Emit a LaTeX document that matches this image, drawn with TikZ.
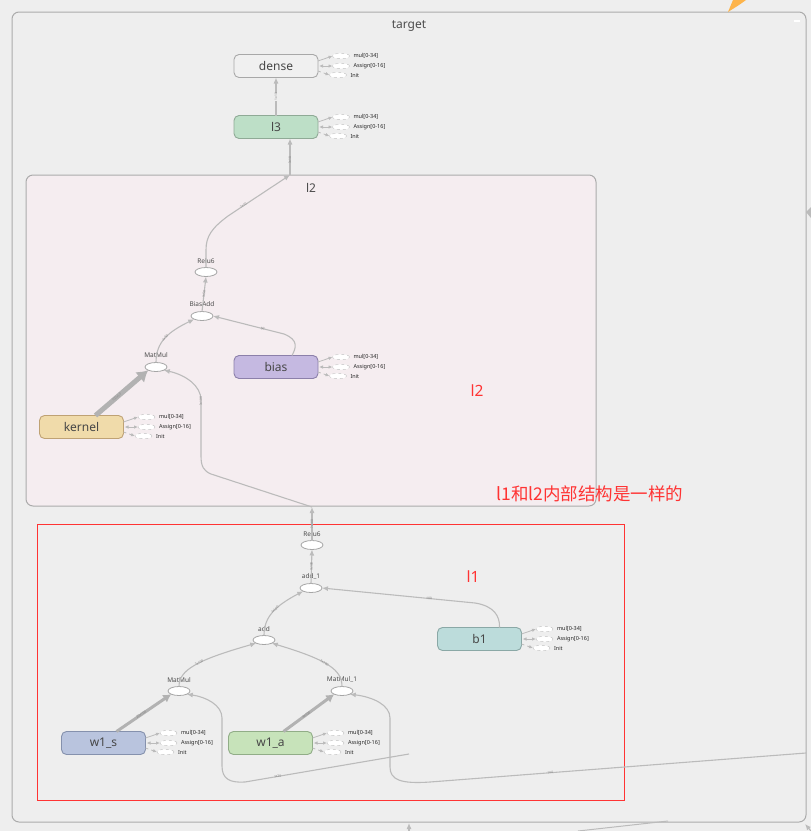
\documentclass[tikz,border=0pt]{standalone}
\usepackage{fontspec}
\setmainfont{Noto Sans}
\newfontfamily\cjk{Noto Sans CJK SC}
\usetikzlibrary{arrows.meta,shapes.geometric}
\definecolor{bgc}{HTML}{EEEEEE}
\definecolor{boxline}{HTML}{ABABAB}
\definecolor{edgec}{HTML}{BBBBBB}
\definecolor{lpink}{HTML}{F5EDF0}
\definecolor{redc}{HTML}{FF3333}
\definecolor{orangec}{HTML}{FDB44B}
\definecolor{densef}{HTML}{F0F0F0}\definecolor{densed}{HTML}{A8A8A8}
\definecolor{greenf}{HTML}{BDDFC7}\definecolor{greend}{HTML}{8FAA96}
\definecolor{purpf}{HTML}{C5B9E1}\definecolor{purpd}{HTML}{8C80AA}
\definecolor{tanf}{HTML}{F0DBAA}\definecolor{tand}{HTML}{BFA274}
\definecolor{tealf}{HTML}{BCDCDB}\definecolor{teald}{HTML}{8AA8A6}
\definecolor{bluef}{HTML}{B9C4DE}\definecolor{blued}{HTML}{8591AD}
\definecolor{lgreenf}{HTML}{C7E3BA}\definecolor{lgreend}{HTML}{91AD87}
\newcommand\varports[1]{%
  \node[port] (#1m) at ([xshift=23pt,yshift=10pt]#1.east) {};
  \node[port] (#1a) at ([xshift=23pt]#1.east) {};
  \node[port] (#1i) at ([xshift=20pt,yshift=-9pt]#1.east) {};
  \node[portlbl] (#1ml) at ([xshift=4pt]#1m.east) {mul[0-34]};
  \node[portlbl] (#1al) at ([xshift=4pt]#1a.east) {Assign[0-16]};
  \node[portlbl] (#1il) at ([xshift=4pt]#1i.east) {Init};
  \draw[portedge] ([yshift=5pt]#1.east) -- (#1m.west);
  \draw[portedge,{Latex[length=4pt,width=3.5pt]}-{Latex[length=4pt,width=3.5pt]}] ([xshift=1pt]#1.east) -- (#1a.west);
  \draw[portedge,dashed] ([yshift=-5pt]#1.east) -- (#1i.west);
}
\begin{document}
\begin{tikzpicture}[x=1pt,y=-1pt,
  every node/.style={inner sep=0pt, outer sep=0pt},
  var/.style={rectangle, rounded corners=5pt, minimum width=84pt, minimum height=23pt, line width=0.9pt, font=\fontsize{12}{12}\selectfont, text=black!72},
  op/.style={ellipse, draw=black!35, fill=white, minimum width=22pt, minimum height=9pt, line width=0.8pt},
  oplbl/.style={font=\fontsize{6.5}{7}\selectfont, text=black!70},
  port/.style={ellipse, draw=black!25, dashed, fill=white, minimum width=17pt, minimum height=5.5pt, line width=0.4pt},
  portlbl/.style={anchor=west, font=\fontsize{5.5}{6}\selectfont, text=black!85},
  portedge/.style={draw=edgec, line width=0.8pt, -{Latex[length=4pt,width=3.5pt]}},
  edge/.style={draw=edgec, line width=1.1pt, -{Latex[length=6pt,width=5pt]}},
  medge/.style={draw=edgec!95!black, line width=3pt, -{Latex[length=8pt,width=9pt]}},
  bigedge/.style={draw=edgec!95!black, line width=5pt, -{Latex[length=11pt,width=14pt]}},
  elbl/.style={font=\fontsize{3.3}{4}\selectfont, text=black!50, sloped},
  ttl/.style={font=\fontsize{12}{12}\selectfont, text=black!70},
  redlbl/.style={font=\fontsize{15.5}{15.5}\selectfont, text=redc}
]
\useasboundingbox (0,0) rectangle (811,831);
\fill[bgc] (0,0) rectangle (811,831);

% outer box
\node[draw=boxline, line width=1pt, rounded corners=7pt, fill=bgc, minimum width=794pt, minimum height=810pt] (target) at (409,417) {};
\node[ttl] (targett) at (409,26) {target};
\node[fill=white, minimum width=6pt, minimum height=1.6pt] (minus) at (797,21) {};
\fill[orangec] (728,12) -- (733,0) -- (746,0) -- (739,5) -- cycle;
\fill[edgec] (806,212) -- (811,207) -- (811,218) -- cycle;

% outside connectors
\coordinate (ob1) at (409,831); \coordinate (ob1e) at (409,823);
\draw[edge] (ob1) -- (ob1e);
\coordinate (ob2) at (578,831); \coordinate (ob2e) at (668,821);
\draw[draw=edgec, line width=1pt] (ob2) -- (ob2e);
\coordinate (ob3) at (811,831); \coordinate (ob3e) at (805,824);
\draw[edge] (ob3) -- (ob3e);

% top nodes
\node[var, fill=densef, draw=densed] (dense) at (276,66) {dense};
\node[var, fill=greenf, draw=greend] (l3) at (276,127) {l3};
\draw[edge] (l3.north) -- node[elbl, fill=bgc, inner sep=0.3pt] {1x10} (dense.south);

% l2 box
\node[draw=boxline, line width=1pt, rounded corners=7pt, fill=lpink, minimum width=570pt, minimum height=331pt] (l2box) at (311,340.5) {};
\node[ttl] (l2t) at (311,188) {l2};
\coordinate (l2top) at (290,175);
\coordinate (l2bot) at (312,507);

% red frame
\node[draw=redc, line width=0.8pt, minimum width=587pt, minimum height=276pt] (l1box) at (330.5,662) {};

% l2 contents
\node[op] (reluB) at (206,272) {};
\node[oplbl] (reluBl) at (206,261) {Relu6};
\node[op] (baddB) at (202,316) {};
\node[oplbl] (baddBl) at (202,304) {BiasAdd};
\node[op] (mmB) at (156,367) {};
\node[oplbl] (mmBl) at (156,355) {MatMul};
\node[var, fill=purpf, draw=purpd] (bias) at (276,367) {bias};
\node[var, fill=tanf, draw=tand] (kernel) at (81.5,427) {kernel};

\draw[edge] (l2top) -- node[elbl, pos=0.4] {?x10} (l3.south -| l2top);
\draw[edge] (reluB.north) -- (206,250) .. controls (206,236) and (212,228) .. (228,216) -- node[elbl, pos=0.25] {?x10} (l2top);
\draw[edge] (baddB.north) -- node[elbl] {?x50} (reluB.south);
\draw[edge] (mmB.north) .. controls (156,342) and (168,332) .. node[elbl, pos=0.5] {?x50} (baddB.south west);
\draw[edge] ([xshift=16pt]bias.north) .. controls (296,348) and (299,340) .. (284,334) -- node[elbl, pos=0.3] {50} (baddB.east);
\draw[bigedge] ([xshift=14pt]kernel.north) -- node[elbl, pos=0.4, text=black!45] {100x50} (mmB.south west);
\draw[edge] (l2bot) -- (211,474) .. controls (204,471) and (201,467) .. (201,456) -- node[elbl, pos=0.98] {?x100} (201,400) .. controls (201,386) and (186,375) .. (mmB.south east);

% l1 contents
\node[op] (reluA) at (312,545) {};
\node[oplbl] (reluAl) at (312,534) {Relu6};
\node[op] (add1) at (311,588) {};
\node[oplbl] (add1l) at (311,577) {add\_1};
\node[op] (addA) at (264,640) {};
\node[oplbl] (addAl) at (264,629) {add};
\node[op] (mmA) at (179,691) {};
\node[oplbl] (mmAl) at (179,680) {MatMul};
\node[op] (mm1) at (342,691) {};
\node[oplbl] (mm1l) at (342,680) {MatMul\_1};
\node[var, fill=tealf, draw=teald] (b1) at (479.5,639) {b1};
\node[var, fill=bluef, draw=blued] (w1s) at (103.5,743) {w1\_s};
\node[var, fill=lgreenf, draw=lgreend] (w1a) at (270.5,743) {w1\_a};

\draw[edge] (reluA.north) -- node[elbl, pos=0.5] {?x100} (l2bot);
\draw[edge] (add1.north) -- node[elbl] {?x100} (reluA.south);
\draw[edge] (addA.north) .. controls (264,617) and (275,606) .. node[elbl, pos=0.55] {?x100} (add1.south west);
\draw[edge] ([xshift=20pt]b1.north) .. controls (500,616) and (494,606) .. (475,603) -- node[elbl, pos=0.3] {100} (add1.east);
\draw[edge] (mmA.north) .. controls (179,670) and (197,660) .. node[elbl, pos=0.55] {?x100} (addA.south west);
\draw[edge] (mm1.north) .. controls (342,670) and (328,660) .. node[elbl, pos=0.55] {?x100} (addA.south east);
\draw[medge] ([xshift=13pt]w1s.north) -- node[elbl, pos=0.45] {20x100} (mmA.south west);
\draw[medge] ([xshift=13pt]w1a.north) -- node[elbl, pos=0.45] {4x100} (mm1.south west);
\coordinate (inA) at (409,754);
\draw[edge] (inA) -- node[elbl, pos=0.8] {?x20} (245,782) .. controls (230,783) and (222,779) .. (222,766) -- (222,718) .. controls (222,705) and (206,697) .. (mmA.south east);
\coordinate (inB) at (806,753);
\draw[edge] (inB) -- node[elbl, pos=0.68] {?x4} (430,782) .. controls (401,784) and (390,780) .. (390,767) -- (390,718) .. controls (390,705) and (373,697) .. (mm1.south east);

% red annotations
\node[redlbl] (r2) at (477,391) {l2};
\node[redlbl, font=\cjk\fontsize{17.5}{17.5}\selectfont] (rnote) at (590,494) {l1和l2内部结构是一样的};
\node[redlbl] (r1) at (473,577) {l1};

% ports
\varports{dense}
\varports{l3}
\varports{bias}
\varports{kernel}
\varports{b1}
\varports{w1s}
\varports{w1a}
\end{tikzpicture}
\end{document}
